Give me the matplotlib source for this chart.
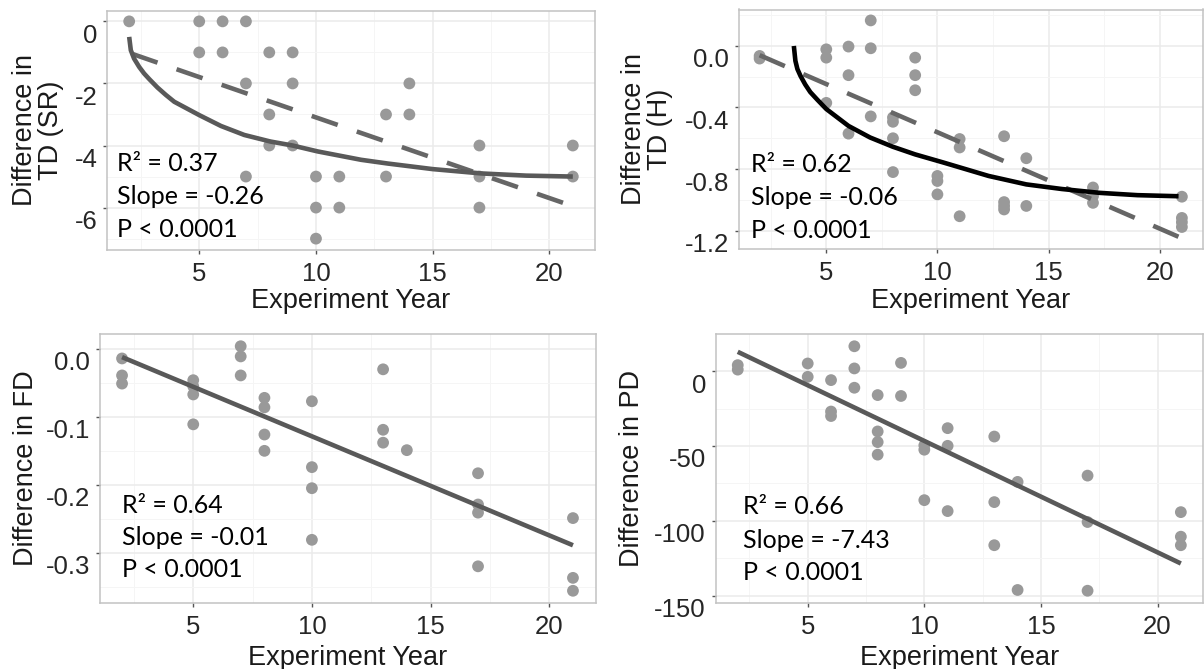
import matplotlib
matplotlib.use("Agg")
import matplotlib.pyplot as plt
from matplotlib.transforms import ScaledTranslation

plt.rcParams["font.family"] = "Liberation Sans"
plt.rcParams["axes.unicode_minus"] = False

# Taxonomic diversity, species richness
sr_year = [2, 5, 6, 7, 5, 6, 8, 9, 7, 9, 14, 8, 13, 14, 8, 9, 17, 21,
           7, 10, 11, 13, 17, 21, 10, 11, 17, 10]
sr_diff = [0, 0, 0, 0, -1, -1, -1, -1, -2, -2, -2, -3, -3, -3, -4, -4, -4, -4,
           -5, -5, -5, -5, -5, -5, -6, -6, -6, -7]
sr_curve_year = [2.0, 2.07, 2.21, 2.43, 2.64, 2.86, 3.21, 3.57, 3.93, 5.0,
                 5.93, 6.93, 8.04, 9.0, 10.07, 11.93, 13.07, 15.0, 17.09,
                 19.0, 21.0]
sr_curve_diff = [-0.50, -0.93, -1.20, -1.47, -1.68, -1.86, -2.13, -2.37,
                 -2.59, -3.02, -3.37, -3.66, -3.87, -4.0, -4.19, -4.46, -4.58,
                 -4.76, -4.90, -4.97, -5.0]
sr_lin_year = [2.1, 21.1]
sr_lin_diff = [-1.04, -5.98]

# Taxonomic diversity, Shannon index
h_year = [2, 2, 5, 5, 5, 6, 6, 6, 7, 7, 7, 8, 8, 8, 8, 9, 9, 9, 10, 10, 10,
          11, 11, 11, 13, 13, 13, 13, 14, 14, 17, 17, 17, 21, 21, 21, 21]
h_diff = [-0.065, -0.082, -0.022, -0.076, -0.37, -0.004, -0.19, -0.57,
          0.166, -0.015, -0.458, -0.465, -0.493, -0.60, -0.82, -0.076, -0.19,
          -0.288, -0.845, -0.878, -0.965, -0.605, -0.66, -1.107, -0.587,
          -1.015, -1.04, -1.063, -0.73, -1.04, -0.92, -0.976, -1.02, -0.98,
          -1.118, -1.146, -1.177]
h_curve_year = [3.54, 3.61, 3.70, 3.84, 4.05, 4.28, 4.6, 5.0, 6.0, 6.97,
                7.99, 9.0, 10.25, 12.3, 14.0, 15.6, 17.3, 19.0, 20.85]
h_curve_diff = [0.0, -0.097, -0.15, -0.195, -0.25, -0.30, -0.35, -0.41,
                -0.52, -0.595, -0.655, -0.705, -0.757, -0.845, -0.90, -0.93,
                -0.955, -0.97, -0.977]
h_lin_year = [2.0, 21.0]
h_lin_diff = [-0.06, -1.25]

# Functional diversity
fd_year = [2, 2, 2, 5, 5, 5, 5, 7, 7, 7, 8, 8, 8, 8, 10, 10, 10, 10,
           13, 13, 13, 14, 17, 17, 17, 17, 21, 21, 21]
fd_diff = [-0.014, -0.039, -0.051, -0.046, -0.055, -0.067, -0.111, 0.004,
           -0.011, -0.039, -0.072, -0.086, -0.126, -0.150, -0.077, -0.174,
           -0.205, -0.281, -0.030, -0.119, -0.138, -0.149, -0.183, -0.229,
           -0.241, -0.320, -0.249, -0.337, -0.356]
fd_lin_year = [2.0, 21.0]
fd_lin_diff = [-0.012, -0.289]

# Phylogenetic diversity
pd_year = [2, 2, 5, 5, 6, 6, 6, 7, 7, 7, 8, 8, 8, 8, 9, 9, 10, 10, 10,
           11, 11, 11, 13, 13, 13, 14, 14, 17, 17, 17, 21, 21, 21]
pd_diff = [4, 1, 5.1, -3.8, -6, -27, -30, 16.6, 1.8, -11.1, -16, -40.3,
           -47.4, -55.8, 5.5, -16.6, -49.6, -52.5, -86.2, -38.1, -49.9, -93.5,
           -43.7, -87.5, -116.3, -74, -146.2, -69.8, -100.8, -146.7, -94.2,
           -110.6, -116.3]
pd_lin_year = [2.0, 21.0]
pd_lin_diff = [12.9, -128.5]

year_ticks = [5, 10, 15, 20]
year_minor = [2.5, 7.5, 12.5, 17.5]

W, H = 1204, 669
fig = plt.figure(figsize=(W / 100, H / 100), dpi=100)


def box(left, top, right, bottom):
    # pixel edges -> figure fraction
    return [left / W, 1 - bottom / H, (right - left) / W, (bottom - top) / H]


def style_panel(ax, ylim, yticks, ylabels, yminor, ylabel, ylabel_x,
                xlabel_y, stats, stats_x, stats_y):
    ax.set_xlim(1.05, 21.95)
    ax.set_ylim(*ylim)
    ax.set_xticks(year_ticks)
    ax.set_xticks(year_minor, minor=True)
    ax.set_yticks(yticks)
    ax.set_yticklabels(ylabels)
    ax.set_yticks(yminor, minor=True)

    ax.set_axisbelow(True)
    ax.grid(which="major", color="#EBEBEB", lw=1.1)
    ax.grid(which="minor", color="#F5F5F5", lw=0.7)
    for s in ax.spines.values():
        s.set_color("#C2C2C2")
        s.set_linewidth(1.1)

    ax.tick_params(which="major", length=3, width=1, color="#555555",
                   labelsize=18.5, labelcolor="#262626")
    ax.tick_params(which="minor", length=0)
    ax.tick_params(axis="x", pad=6)
    ax.tick_params(axis="y", pad=4)
    # y labels sit a little below their ticks
    shift = ScaledTranslation(0, -12 / 100, fig.dpi_scale_trans)
    for lab in ax.get_yticklabels():
        lab.set_transform(lab.get_transform() + shift)

    ax.set_xlabel("Experiment Year", fontsize=19.5, color="#1a1a1a")
    ax.xaxis.label.set_va("baseline")
    ax.xaxis.set_label_coords(0.5, xlabel_y)
    ax.set_ylabel(ylabel, fontsize=19.5, color="#1a1a1a", linespacing=1.0)
    ax.yaxis.label.set_va("center")
    ax.yaxis.set_label_coords(ylabel_x, 0.5)

    for txt, ty in zip(stats, stats_y):
        ax.text(stats_x, ty, txt, transform=ax.transAxes, fontsize=18,
                family="Lato", color="black", va="center", ha="left")


point_kw = dict(s=72, color="#999999", edgecolors="none", zorder=2)
line_kw = dict(lw=3.3, solid_capstyle="butt", solid_joinstyle="round",
               zorder=3)

# top left: TD (SR)
ax1 = fig.add_axes(box(107, 10.5, 595, 249.5))
ax1.scatter(sr_year, sr_diff, **point_kw)
ax1.plot(sr_lin_year, sr_lin_diff, color="#666666", ls=(0, (6, 4.4)), **line_kw)
ax1.plot(sr_curve_year, sr_curve_diff, color="#595959", **line_kw)
style_panel(ax1, (-7.35, 0.35), [0, -2, -4, -6], ["0", "-2", "-4", "-6"],
            [-1, -3, -5, -7], "Difference in\nTD (SR)", -0.141, -0.245,
            ["R² = 0.37", "Slope = -0.26", "P < 0.0001"], 0.02,
            [0.361, 0.22, 0.082])

# top right: TD (H)
ax2 = fig.add_axes(box(738.5, 9.5, 1203, 249))
ax2.scatter(h_year, h_diff, **point_kw)
ax2.plot(h_lin_year, h_lin_diff, color="#666666", ls=(0, (6, 4.4)), **line_kw)
ax2.plot(h_curve_year, h_curve_diff, color="black", **line_kw)
style_panel(ax2, (-1.32, 0.237), [0.0, -0.4, -0.8, -1.2],
            ["0.0", "-0.4", "-0.8", "-1.2"], [0.2, -0.2, -0.6, -1.0],
            "Difference in\nTD (H)", -0.197, -0.245,
            ["R² = 0.62", "Slope = -0.06", "P < 0.0001"], 0.026,
            [0.354, 0.217, 0.079])

# bottom left: FD
ax3 = fig.add_axes(box(99.5, 334, 595.5, 603))
ax3.scatter(fd_year, fd_diff, **point_kw)
ax3.plot(fd_lin_year, fd_lin_diff, color="#595959", **line_kw)
style_panel(ax3, (-0.374, 0.022), [0.0, -0.1, -0.2, -0.3],
            ["0.0", "-0.1", "-0.2", "-0.3"], [-0.05, -0.15, -0.25, -0.35],
            "Difference in FD", -0.148, -0.232,
            ["R² = 0.64", "Slope = -0.01", "P < 0.0001"], 0.045,
            [0.364, 0.242, 0.123])

# bottom right: PD
ax4 = fig.add_axes(box(715.6, 334, 1203, 603))
ax4.scatter(pd_year, pd_diff, **point_kw)
ax4.plot(pd_lin_year, pd_lin_diff, color="#595959", **line_kw)
style_panel(ax4, (-154.9, 24.8), [0, -50, -100, -150],
            ["0", "-50", "-100", "-150"], [-25, -75, -125],
            "Difference in PD", -0.172, -0.232,
            ["R² = 0.66", "Slope = -7.43", "P < 0.0001"], 0.057,
            [0.357, 0.234, 0.115])

fig.savefig("out.png", dpi=100, facecolor="white")
